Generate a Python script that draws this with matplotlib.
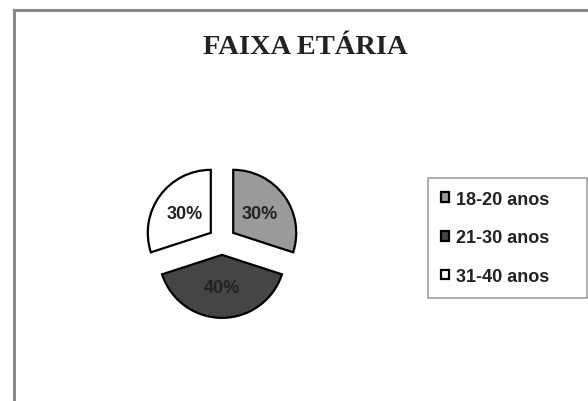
import matplotlib.pyplot as plt
from matplotlib.lines import Line2D

categories = ["18-20 anos", "21-30 anos", "31-40 anos"]
shares = [30, 40, 30]
colors = ["#9a9a9a", "#454545", "#ffffff"]
title = "FAIXA ETÁRIA"

W, H = 588, 402
fig = plt.figure(figsize=(W / 100, H / 100), dpi=100)

# pie area: centre ~(222, 242) px, radius ~63 px
lim = 1.3
r_px = 63
size = 2 * lim * r_px
cx, cy = 222, 242
ax = fig.add_axes([(cx - size / 2) / W, (H - cy - size / 2) / H, size / W, size / H])
wedges, texts, autotexts = ax.pie(
    shares,
    colors=colors,
    startangle=90,
    counterclock=False,
    explode=[0.22, 0.22, 0.22],
    autopct="%d%%",
    pctdistance=0.52,
    wedgeprops=dict(edgecolor="black", linewidth=1.6),
    textprops=dict(fontsize=13, fontweight="bold", family="Liberation Sans", color="#222222"),
)
ax.set_xlim(-lim, lim)
ax.set_ylim(-lim, lim)
ax.set_aspect("equal")
ax.axis("off")

# title
fig.text(305 / W, 1 - 47 / H, title, ha="center", va="center",
         fontsize=20.5, fontweight="bold", family="Liberation Serif", color="#222222")

# legend
leg = fig.legend(
    wedges, categories,
    loc="upper left",
    bbox_to_anchor=(428 / W, (H - 302) / H, 159 / W, 123 / H),
    mode="expand",
    borderaxespad=0,
    frameon=True,
    fancybox=False,
    handlelength=0.45,
    handleheight=0.45,
    handletextpad=0.4,
    borderpad=0.7,
    labelspacing=1.2,
    prop=dict(size=13, weight="bold", family="Liberation Sans"),
)
leg.get_frame().set_edgecolor("#888888")
leg.get_frame().set_linewidth(1.2)
for t in leg.get_texts():
    t.set_color("#222222")

# outer frame (left and top edges visible)
fig.add_artist(Line2D([13.5 / W, 13.5 / W], [0, 1 - 11 / H], transform=fig.transFigure,
                      color="#888888", linewidth=2.2))
fig.add_artist(Line2D([13.5 / W, 1], [1 - 11 / H, 1 - 11 / H], transform=fig.transFigure,
                      color="#888888", linewidth=2.2))

fig.savefig("out.png", dpi=100)
